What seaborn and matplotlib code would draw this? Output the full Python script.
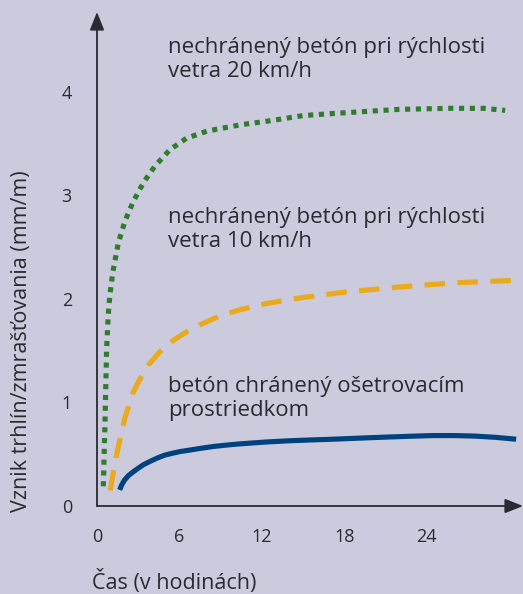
import matplotlib
matplotlib.use('Agg')
import matplotlib.pyplot as plt
import seaborn as sns

# hours / crack strain (mm/m)
green_t = [0.46, 0.58, 0.70, 0.82, 0.94, 1.14, 1.55, 2.03, 2.64, 3.37, 4.2, 5.3, 6.5, 8.0,
           10.4, 12.6, 15.0, 17.2, 22.0, 25.7, 28.1, 29.7]
green_y = [0.19, 0.80, 1.52, 1.85, 2.04, 2.25, 2.54, 2.75, 2.94, 3.12, 3.28, 3.44, 3.55, 3.62,
           3.68, 3.72, 3.77, 3.79, 3.83, 3.84, 3.84, 3.82]

orange_t = [0.97, 1.25, 1.55, 2.03, 2.64, 3.1, 3.73, 4.58, 5.55, 6.5, 7.5, 8.5, 9.4, 10.4,
            12.3, 14.8, 18.0, 22.0, 26.0, 30.7]
orange_y = [0.15, 0.38, 0.57, 0.85, 1.10, 1.22, 1.36, 1.49, 1.60, 1.68, 1.75, 1.81, 1.855,
            1.895, 1.955, 2.01, 2.065, 2.115, 2.155, 2.18]

blue_t = [1.65, 1.8, 2.0, 2.3, 2.64, 3.0, 3.4, 3.85, 4.33, 4.9, 5.5, 6.1, 6.76, 7.6, 8.5, 9.4,
          10.4, 12.2, 14.0, 15.6, 17.2, 19.0, 21.0, 22.7, 24.4, 26.0, 27.5, 29.0, 30.5]
blue_y = [0.155, 0.205, 0.25, 0.295, 0.33, 0.365, 0.40, 0.43, 0.46, 0.49, 0.51, 0.527, 0.54,
          0.558, 0.575, 0.588, 0.60, 0.617, 0.63, 0.638, 0.645, 0.655, 0.665, 0.673, 0.68,
          0.68, 0.675, 0.663, 0.645]

x_ticks = [0, 6, 12, 18, 24]
y_ticks = [0, 1, 2, 3, 4]

labels = ['nechránený betón pri rýchlosti\nvetra 20 km/h',
          'nechránený betón pri rýchlosti\nvetra 10 km/h',
          'betón chránený ošetrovacím\nprostriedkom']
label_y = [4.31, 2.67, 1.04]

bg = '#cbcbdd'
ink = '#2b2a33'

sns.set_style('white')
plt.rcParams['font.family'] = ['Open Sans', 'DejaVu Sans']

fig = plt.figure(figsize=(5.23, 5.94), dpi=100, facecolor=bg)
W, H = 523, 594
ax = fig.add_axes([97 / W, 88 / H, 426 / W, 494 / H])
ax.set_facecolor(bg)

sns.lineplot(x=green_t, y=green_y, ax=ax, color='#2f7d2c', linewidth=3.7,
             linestyle=(0, (1, 1.1)), dash_capstyle='butt')
sns.lineplot(x=orange_t, y=orange_y, ax=ax, color='#eba91c', linewidth=3.7,
             linestyle=(0, (4, 2.4)), dash_capstyle='butt')
sns.lineplot(x=blue_t, y=blue_y, ax=ax, color='#00427f', linewidth=3.7,
             solid_capstyle='butt')

ax.set(xlim=(0, 31), ylim=(0, 4.77), xlabel='', ylabel='')
for sp in ax.spines.values():
    sp.set_visible(False)

# axes with arrow heads
arrow = dict(arrowstyle='-|>,head_length=0.55,head_width=0.22', color=ink, lw=1.3,
             shrinkA=0, shrinkB=0, mutation_scale=20)
ax.annotate('', xy=(1, 0), xytext=(0, 0), xycoords='axes fraction', arrowprops=arrow,
            annotation_clip=False)
ax.annotate('', xy=(0, 1), xytext=(0, 0), xycoords='axes fraction', arrowprops=arrow,
            annotation_clip=False)

ax.set_xticks(x_ticks)
ax.set_xticklabels([str(v) for v in x_ticks])
ax.set_yticks(y_ticks)
ax.set_yticklabels([str(v) for v in y_ticks])
ax.tick_params(axis='x', direction='out', length=10, width=1.2, color=ink, labelcolor=ink,
               labelsize=13, pad=6)
ax.tick_params(axis='y', direction='inout', length=16, width=1.2, color=ink, labelcolor=ink,
               labelsize=13, pad=10)
ax.xaxis.get_major_ticks()[0].tick1line.set_visible(False)

for txt, yy in zip(labels, label_y):
    ax.text(5.16, yy, txt, ha='left', va='center', fontsize=16, color=ink, linespacing=1.2)

fig.text(22 / W, 1 - 341 / H, 'Vznik trhlín/zmrašťovania (mm/m)', rotation=90,
         ha='center', va='center', fontsize=15.5, color=ink)
fig.text(92 / W, 1 - 582 / H, 'Čas (v hodinách)', ha='left', va='center', fontsize=15.5,
         color=ink)

fig.savefig('out.png', dpi=100, facecolor=bg)
